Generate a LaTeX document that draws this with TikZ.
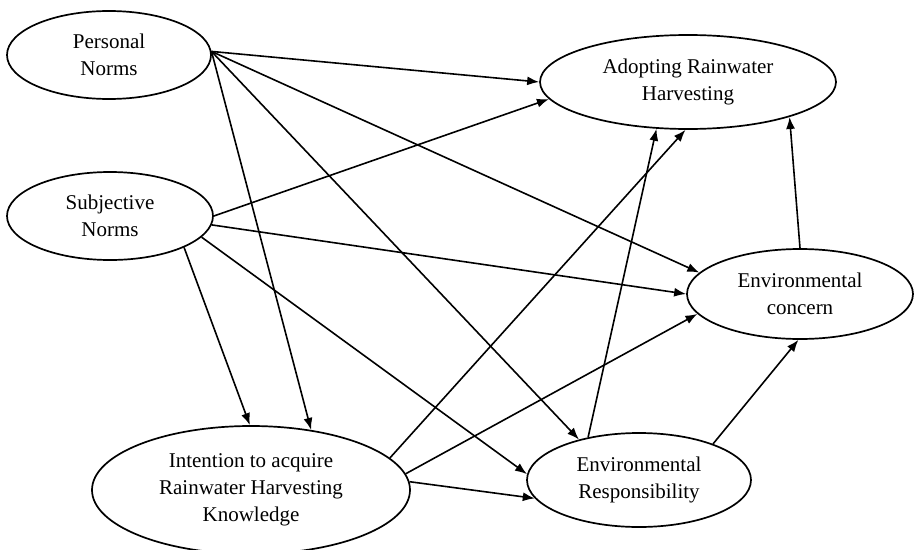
\documentclass[tikz,border=0pt]{standalone}
\usepackage{fontspec}
\setmainfont{Liberation Serif}
\usepackage{tikz}
\usetikzlibrary{shapes.geometric,arrows.meta}
\tikzset{
CONSTRUCT/.style ={draw=black,ellipse,line width=1.7pt,inner sep=0pt,align=center,
	font=\fontsize{21}{27}\selectfont},
EFFECT/.style ={draw=black,line width=1.6pt,-{Latex[length=12pt,width=9pt]}},
}
\begin{document}
\begin{tikzpicture}[x=1pt,y=-1pt]
	\clip (0,0) rectangle (915,549);
	\node[CONSTRUCT,minimum width=204pt,minimum height=88pt] (pn) at (109,55) {Personal\\Norms};
	\node[CONSTRUCT,minimum width=206pt,minimum height=88pt] (sn) at (110,216) {Subjective\\Norms};
	\node[CONSTRUCT,minimum width=296pt,minimum height=94pt] (ad) at (688,82) {Adopting Rainwater\\Harvesting};
	\node[CONSTRUCT,minimum width=226pt,minimum height=90pt] (ec) at (800,294) {Environmental\\concern};
	\node[CONSTRUCT,minimum width=224pt,minimum height=94pt] (er) at (639,480) {Environmental\\Responsibility};
	\node[CONSTRUCT,minimum width=318pt,minimum height=128pt] (in) at (251,490) {Intention to acquire\\Rainwater Harvesting\\Knowledge};
	%Personal norms
	\path[EFFECT] (pn.2) -- (ad.180);
	\path[EFFECT] (pn.2) -- (ec.168);
	\path[EFFECT] (pn.2) -- (er.146);
	\path[EFFECT] (pn.2) -- (in.45);
	%Subjective norms
	\path[EFFECT] (sn.0) -- (ad.187);
	\path[EFFECT] (sn.-5) -- (ec.180);
	\path[EFFECT] (sn.-13) -- (er.177);
	\path[EFFECT] (sn.-23) -- (in.91);
	%Intention
	\path[EFFECT] (in.13) -- (ad.-93);
	\path[EFFECT] (in.6) -- (ec.191);
	\path[EFFECT] (in.3) -- (er.190);
	%Responsibility and concern
	\path[EFFECT] (er.140) -- (ad.236);
	\path[EFFECT] (er.26) -- (ec.-92);
	\path[EFFECT] (ec.90) -- (ad.-19);
\end{tikzpicture}
\end{document}
